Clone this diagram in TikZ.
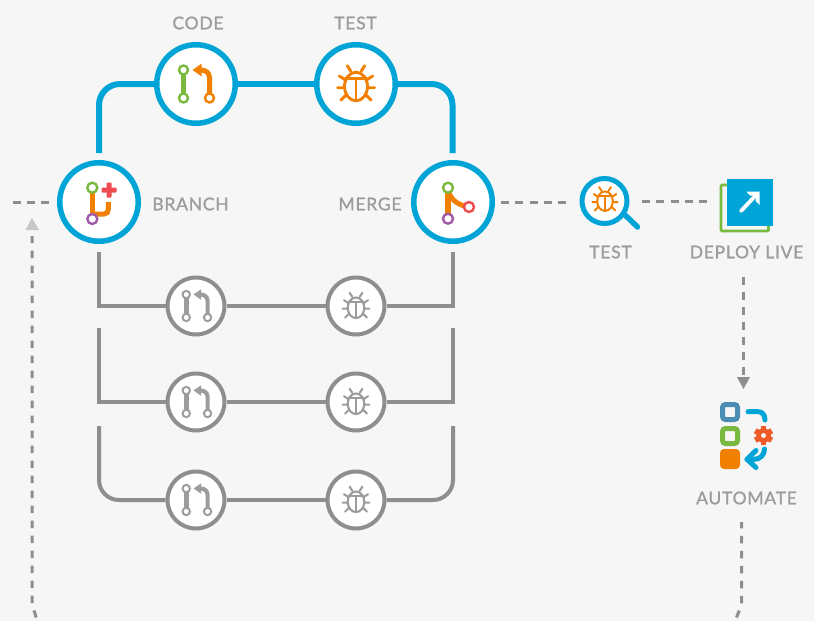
\documentclass[tikz,border=0pt]{standalone}
\usepackage{fontspec}
\setmainfont{Lato}
\usetikzlibrary{calc}
\definecolor{pagebg}{HTML}{F6F6F6}
\definecolor{cblue}{HTML}{00A4D6}
\definecolor{cgray}{HTML}{8E8E8E}
\definecolor{igray}{HTML}{9C9C9C}
\definecolor{tgray}{HTML}{9C9C9C}
\definecolor{corange}{HTML}{F28000}
\definecolor{cgreen}{HTML}{7AB940}
\definecolor{cpurple}{HTML}{A05BA8}
\definecolor{cred}{HTML}{EE4C50}
\definecolor{csteel}{HTML}{4C8DB4}
\definecolor{cgear}{HTML}{EE5A28}
\definecolor{ltri}{HTML}{C6C6C6}
\tikzset{
  bigring/.style={circle,draw=cblue,fill=white,line width=5.5pt,minimum size=78.5pt,inner sep=0pt},
  smallring/.style={circle,draw=cgray,fill=white,line width=4pt,minimum size=57pt,inner sep=0pt},
  blueline/.style={draw=cblue,line width=6pt},
  grayline/.style={draw=cgray,line width=4pt},
  dashline/.style={draw=cgray,line width=3pt,dash pattern=on 8pt off 6.3pt},
  vdash/.style={draw=cgray,line width=3pt,dash pattern=on 7.5pt off 7.5pt},
  lab/.style={text=tgray,font=\fontsize{17.5}{19}\selectfont\addfontfeatures{LetterSpace=4.2,FakeBold=1.2},inner sep=0pt},
  hole/.style={fill=white,line width=#1*2.4pt},
}
\newcommand{\codeicon}[5]{%
\begin{scope}[shift={(#1,#2)},scale=#3]
  \draw[#4,line width=#3*5.5pt] (-12.5,-14) -- (-12.5,14);
  \draw[#5,line width=#3*5pt] (13.5,14) -- (13.5,-6) .. controls (13.5,-11) and (10,-14) .. (5,-14) -- (3,-14);
  \fill[#5] (-3.5,-14) -- (5.7,-20.5) -- (5.7,-7.5) -- cycle;
  \draw[#4,hole=#3] (-12.5,-14) circle[radius=4.5];
  \draw[#4,hole=#3] (-12.5,14) circle[radius=4.5];
  \draw[#5,hole=#3] (13.5,14) circle[radius=4.5];
\end{scope}}
\newcommand{\bugicon}[4]{%
\begin{scope}[shift={(#1,#2)},scale=#3,line cap=round]
  \draw[#4,line width=#3*2.9pt] (0,2.5) ellipse[x radius=11.5,y radius=14.3];
  \draw[#4,line width=#3*2.9pt] (-11,-5.7) -- (11,-5.7) (0,-5.7) -- (0,16.5);
  \draw[#4,line width=#3*2.9pt] (-8.7,-18.3) -- (-5,-12.5) (8.7,-18.3) -- (5,-12.5)
     (-16.7,-8) -- (-10.5,-4) (16.7,-8) -- (10.5,-4)
     (-18.5,3.7) -- (-11.5,3.7) (18.5,3.7) -- (11.5,3.7)
     (-15,16) -- (-9.5,10.5) (15,16) -- (9.5,10.5);
\end{scope}}
\begin{document}
\begin{tikzpicture}[x=1pt,y=-1pt]
\useasboundingbox (0,0) rectangle (814,621);
\fill[pagebg] (0,0) rectangle (814,621);

% main rings
\node[bigring] (code) at (196,84) {};
\node[bigring] (test) at (356,84) {};
\node[bigring] (branch) at (99,202) {};
\node[bigring] (merge) at (453,202) {};
\coordinate (bt) at (99,153);
\coordinate (mt) at (452.5,153);

\draw[blueline,rounded corners=21pt] (bt) |- (code.west);
\draw[blueline] (code.east) -- (test.west);
\draw[blueline,rounded corners=21pt] (test.east) -| (mt);

% small rings
\foreach \n/\y in {a/306,b/402,c/500}{
  \node[smallring] (c\n) at (196,\y) {};
  \node[smallring] (t\n) at (356,\y) {};
  \draw[grayline] (c\n.east) -- (t\n.west);
}
\coordinate (l1) at (99,252); \coordinate (r1) at (453,252);
\coordinate (l2) at (99,328); \coordinate (r2) at (453,328);
\coordinate (l3) at (99,426); \coordinate (r3) at (453,426);
\draw[grayline] (l1) |- (ca.west);
\draw[grayline] (ta.east) -| (r1);
\draw[grayline] (l2) |- (cb.west);
\draw[grayline] (tb.east) -| (r2);
\draw[grayline,rounded corners=20pt] (l3) |- (cc.west);
\draw[grayline,rounded corners=20pt] (tc.east) -| (r3);

% icons
\codeicon{196}{84}{1}{cgreen}{corange}
\bugicon{356}{84}{1}{corange}
\foreach \y in {306,402,500}{
  \codeicon{196.5}{\y}{0.82}{igray}{igray}
  \bugicon{356}{\y}{0.72}{igray}
}

% branch icon
\begin{scope}[shift={(99,202)}]
  \draw[corange,line width=5pt] (-6.7,-14) -- (-6.7,17);
  \draw[corange,line width=5pt] (-6.7,12) -- (5,12) .. controls (8,12) and (9.3,10) .. (9.3,7) -- (9.3,0);
  \draw[cgreen,hole=1] (-6.7,-14.3) circle[radius=5];
  \draw[cpurple,hole=1] (-6.7,17) circle[radius=5];
  \fill[cred,rounded corners=0.8pt] (7.5,-19.5) rectangle (12.5,-4.5);
  \fill[cred,rounded corners=0.8pt] (2.5,-14.5) rectangle (17.5,-9.5);
\end{scope}
% merge icon
\begin{scope}[shift={(453,202)}]
  \draw[corange,line width=5.5pt] (-5,-14) -- (-5,17);
  \draw[corange,line width=5pt] (-4,-9) .. controls (-1,-1) and (6,3) .. (15,5);
  \draw[cgreen,hole=1] (-5,-14.3) circle[radius=5];
  \draw[cpurple,hole=1] (-5,16.7) circle[radius=5];
  \draw[cred,hole=1] (16,5) circle[radius=5];
\end{scope}

% magnifier
\draw[cblue,line width=5.5pt,line cap=round] (625,215) -- (637.5,227);
\node[circle,draw=cblue,fill=white,line width=5pt,minimum size=45pt,inner sep=0pt] (mag) at (604.5,201) {};
\bugicon{605}{199.5}{0.68}{corange}

% deploy
\draw[cgreen,line width=2.6pt,rounded corners=1pt] (721,185) rectangle (768.5,231);
\node[fill=cblue,minimum width=46pt,minimum height=47pt,inner sep=0pt,outer sep=0pt] (deploy) at (750,202.5) {};
\draw[white,line width=3.8pt,line cap=round] (741,211) -- (757,194);
\fill[white] (746,191.5) -- (759.5,191.5) -- (759.5,205) -- (755.5,201) -- (755.5,195.5) -- (750,195.5) -- cycle;

% automate
\draw[csteel,line width=5pt,rounded corners=3pt,fill=pagebg] (722.5,404.5) rectangle (737.5,419.5);
\draw[cgreen,line width=5pt,rounded corners=3pt,fill=pagebg] (722.5,428.5) rectangle (737.5,443.5);
\fill[corange,rounded corners=4pt] (720,449) rectangle (740,469);
\draw[cblue,line width=5pt,line cap=round] (748,411.7) -- (758,411.7) .. controls (762,411.7) and (765,414.5) .. (765,420);
\draw[cblue,line width=5pt,line cap=round,line join=round] (764.5,449) .. controls (764.5,455) and (760,459.3) .. (754,459.3) -- (747,459.3);
\draw[cblue,line width=5pt,line cap=round,line join=round] (756,450.5) -- (747,459.3) -- (756,467.5);
\begin{scope}[shift={(763.5,435.5)}]
  \foreach \a in {0,60,...,300}{
    \fill[cgear,rotate=\a] (-2.8,-9.5) rectangle (2.8,-5);
  }
  \fill[cgear,even odd rule] (0,0) circle[radius=7.3] (0,0) circle[radius=2.6];
\end{scope}

% dashed connectors
\coordinate (in) at (12.5,202);
\draw[dashline,shorten >=7pt] (in) -- (branch.west);
\coordinate (mo) at (501,202);
\coordinate (mi) at (569,202);
\draw[dashline] (mo) -- (mi);
\coordinate (do) at (642,201);
\coordinate (di) at (710,201);
\draw[dashline] (do) -- (di);

% deploy to automate
\coordinate (da) at (743.5,277);
\coordinate (db) at (743.5,376);
\draw[vdash] (da) -- (db);
\fill[cgray] (743.5,389) -- (737,377) -- (750,377) -- cycle;

% automate onward
\coordinate (ra) at (741.5,522);
\coordinate (rb) at (741.5,605);
\coordinate (rc) at (736.5,617.5);
\draw[vdash] (rc) -- (rb) -- (ra);

% return line
\coordinate (la) at (36.2,617.5);
\coordinate (lb) at (32,604);
\coordinate (lc) at (32,236);
\draw[vdash] (la) -- (lb) -- (lc);
\fill[ltri] (32,218) -- (25.5,230) -- (39,230) -- cycle;

% labels
\node[lab] (lcode) at (198,23) {CODE};
\node[lab] (ltest) at (355.5,23) {TEST};
\node[lab] (lbranch) at (190.5,204) {BRANCH};
\node[lab] (lmerge) at (370,204) {MERGE};
\node[lab] (ltest2) at (610.5,252) {TEST};
\node[lab] (ldeploy) at (746.5,252) {DEPLOY LIVE};
\node[lab] (lauto) at (746.5,498) {AUTOMATE};
\end{tikzpicture}
\end{document}
